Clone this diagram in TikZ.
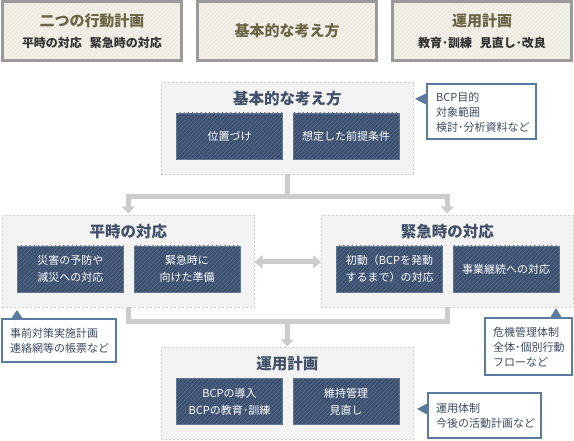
\documentclass[tikz,border=0pt]{standalone}
\usepackage{fontspec}
\setmainfont{Noto Sans CJK JP}
\usetikzlibrary{arrows.meta,patterns.meta,calc}
\definecolor{topfill}{HTML}{EEEBE1}
\definecolor{topstripe}{HTML}{F7F5EF}
\definecolor{topborder}{HTML}{9A9A9A}
\definecolor{toptitle}{HTML}{6B6546}
\definecolor{topsub}{HTML}{333333}
\definecolor{contfill}{HTML}{F3F3F3}
\definecolor{contborder}{HTML}{D0D0D0}
\definecolor{conttitle}{HTML}{3F5068}
\definecolor{innerfill}{HTML}{3D516F}
\definecolor{innerstripe}{HTML}{52678A}
\definecolor{innerborder}{HTML}{62768F}
\definecolor{callborder}{HTML}{5B7A9F}
\definecolor{calltext}{HTML}{3C4B5F}
\definecolor{connc}{HTML}{CCCCCC}
\begin{document}
\begin{tikzpicture}[x=1pt,y=-1pt,
  topbox/.style={draw=topborder, line width=3pt, preaction={fill=topfill},
    pattern={Lines[angle=45,distance=3pt,line width=0.6pt]}, pattern color=topstripe,
    minimum width=179pt, minimum height=59pt, anchor=north west, inner sep=0pt, outer sep=0pt},
  toptitle/.style={text=toptitle, font=\fontsize{15}{18}\selectfont\bfseries, inner sep=0pt},
  topsubtitle/.style={text=topsub, font=\fontsize{12}{14}\selectfont\bfseries, inner sep=0pt},
  cont/.style={draw=contborder, dash pattern=on 2pt off 2pt, line width=0.8pt, fill=contfill,
    minimum width=252.5pt, minimum height=92pt, anchor=north west, inner sep=0pt, outer sep=0pt},
  conttitle/.style={text=conttitle, font=\fontsize{15.5}{18}\selectfont\bfseries, inner sep=0pt},
  inner/.style={draw=innerborder, line width=0.8pt, preaction={fill=innerfill},
    pattern={Lines[angle=45,distance=3pt,line width=0.7pt]}, pattern color=innerstripe,
    minimum width=106pt, minimum height=46pt, anchor=north west, inner sep=0pt, outer sep=0pt,
    text=white, align=center, font=\fontsize{11}{17}\selectfont},
  callbox/.style={draw=callborder, line width=2pt, fill=white, anchor=north west, inner sep=0pt, outer sep=0pt},
  calltxt/.style={text=calltext, anchor=west, align=left, inner sep=0pt, font=\fontsize{11}{15}\selectfont},
  conn/.style={draw=connc, line width=5pt},
  tip/.style={-{Triangle[width=13pt,length=7pt]}}
]
\useasboundingbox (0,0) rectangle (574,441);

% top boxes
\node[topbox] (t1) at (2.5,1.5) {};
\node[topbox] (t2) at (197.5,1.5) {};
\node[topbox] (t3) at (392.5,1.5) {};
\node[toptitle] (t1a) at (92,21) {二つの行動計画};
\node[topsubtitle] (t1b) at (92,43) {平時の対応\hspace{8pt}緊急時の対応};
\node[toptitle] (t2a) at (287,31) {基本的な考え方};
\node[toptitle] (t3a) at (482,21) {運用計画};
\node[topsubtitle] (t3b) at (482,43) {教育･訓練\hspace{8pt}見直し･改良};

% containers
\node[cont] (kihon) at (161,82) {};
\node[cont] (heiji) at (2,215) {};
\node[cont] (kinkyu) at (321,215) {};
\node[cont] (unyo) at (161,347) {};

\node[conttitle] (kihonT) at ($(kihon.north)+(0,16.5)$) {基本的な考え方};
\node[conttitle] (heijiT) at ($(heiji.north)+(0,17)$) {平時の対応};
\node[conttitle] (kinkyuT) at ($(kinkyu.north)+(0,17)$) {緊急時の対応};
\node[conttitle] (unyoT) at ($(unyo.north)+(0,17)$) {運用計画};

% inner boxes
\node[inner] (k1) at ($(kihon.north west)+(15.5,31)$) {位置づけ};
\node[inner] (k2) at ($(kihon.north west)+(132,31)$) {想定した前提条件};
\node[inner] (h1) at ($(heiji.north west)+(15.5,31)$) {災害の予防や\\減災への対応};
\node[inner] (h2) at ($(heiji.north west)+(132,31)$) {緊急時に\\向けた準備};
\node[inner] (e1) at ($(kinkyu.north west)+(15.5,31)$) {初動（BCPを発動\\するまで）の対応};
\node[inner] (e2) at ($(kinkyu.north west)+(132,31)$) {事業継続への対応};
\node[inner] (u1) at ($(unyo.north west)+(15.5,31.5)$) {BCPの導入\\BCPの教育･訓練};
\node[inner] (u2) at ($(unyo.north west)+(132,31.5)$) {維持管理\\見直し};

% connectors
\coordinate (j1) at (287.5,197);
\coordinate (j2) at (287.5,322);
\draw[conn] (kihon.south) -- (j1);
\draw[conn,tip] (j1) -| ([yshift=1.5pt]heiji.north);
\draw[conn,tip] (j1) -| ([yshift=1.5pt]kinkyu.north);
\draw[conn] (heiji.south) |- (j2) -| (kinkyu.south);
\draw[conn,tip] (j2) -- ([yshift=0.5pt]unyo.north);
\draw[conn,{Triangle[width=13pt,length=8pt]}-{Triangle[width=13pt,length=8pt]}]
  ([yshift=-1pt]heiji.east) -- ([yshift=-1pt]kinkyu.west);

% callouts
\node[callbox, minimum width=109pt, minimum height=55pt] (c1) at (427,84) {};
\node[callbox, minimum width=114pt, minimum height=43pt] (c2) at (2,319) {};
\node[callbox, minimum width=87pt, minimum height=57pt] (c3) at (485,318) {};
\node[callbox, minimum width=113pt, minimum height=45pt] (c4) at (428,393) {};

\fill[callborder] ($(c1.north west)+(0,9)$) -- ($(c1.north west)+(-12,15)$) -- ($(c1.north west)+(0,21)$) -- cycle;
\fill[callborder] ($(c2.north west)+(9,0)$) -- ($(c2.north west)+(15,-9)$) -- ($(c2.north west)+(21,0)$) -- cycle;
\fill[callborder] ($(c3.north west)+(65,0)$) -- ($(c3.north west)+(71,-10)$) -- ($(c3.north west)+(77,0)$) -- cycle;
\fill[callborder] ($(c4.north west)+(0,10)$) -- ($(c4.north west)+(-11,16)$) -- ($(c4.north west)+(0,22)$) -- cycle;

\node[calltxt] (c1t) at (436,112) {BCP目的\\対象範囲\\検討･分析資料など};
\node[calltxt] (c2t) at (10,341) {事前対策実施計画\\連絡網等の帳票など};
\node[calltxt] (c3t) at (493,347) {危機管理体制\\全体･個別行動\\フローなど};
\node[calltxt] (c4t) at (436,416) {運用体制\\今後の活動計画など};
\end{tikzpicture}
\end{document}
